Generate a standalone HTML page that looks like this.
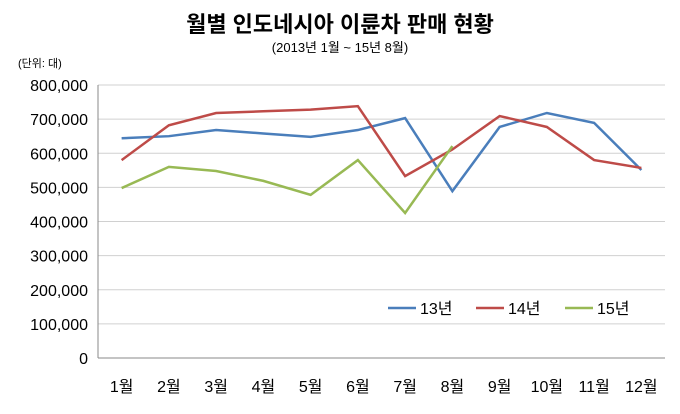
<!DOCTYPE html>
<html><head><meta charset="utf-8"><style>
body{margin:0;background:#fff;font-family:"Liberation Sans","Noto Sans CJK KR",sans-serif}
</style></head><body>
<svg width="680" height="409" xmlns="http://www.w3.org/2000/svg" font-family="Liberation Sans, Noto Sans CJK KR, sans-serif">
<rect width="680" height="409" fill="#fff"/>
<text x="340" y="32" text-anchor="middle" font-size="22" font-weight="bold" fill="#000">월별 인도네시아 이륜차 판매 현황</text>
<text x="340" y="52" text-anchor="middle" font-size="13" fill="#000">(2013년 1월 ~ 15년 8월)</text>
<text x="18" y="67" font-size="11" fill="#000">(단위: 대)</text>
<g id="grid"></g><g id="series"></g><g id="labels"></g>
<g>
<line x1="388" y1="308" x2="416" y2="308" stroke="#4a7ebb" stroke-width="2.5"/><text x="420" y="314" font-size="16">13년</text>
<line x1="476" y1="308" x2="504" y2="308" stroke="#be4b48" stroke-width="2.5"/><text x="508" y="314" font-size="16">14년</text>
<line x1="565" y1="308" x2="593" y2="308" stroke="#98b954" stroke-width="2.5"/><text x="597" y="314" font-size="16">15년</text>
</g>
</svg>
<script>
const categories=["1월","2월","3월","4월","5월","6월","7월","8월","9월","10월","11월","12월"];
const s13=[644000,650000,668000,658000,648000,668000,703000,489000,677000,718000,689000,551000];
const s14=[580000,682000,718000,723000,728000,738000,533000,611000,709000,677000,580000,557000];
const s15=[498000,560000,548000,519000,478000,580000,425000,621000];
const ticks=[0,100000,200000,300000,400000,500000,600000,700000,800000];
const NS="http://www.w3.org/2000/svg";
const x0=98,x1=665,yb=358,yt=85,ymax=800000;
const y=v=>yb-(v/ymax)*(yb-yt);
const x=i=>x0+(x1-x0)/categories.length*(i+0.5);
const g=document.getElementById('grid'),sg=document.getElementById('series'),lg=document.getElementById('labels');
function el(t,a,p){const e=document.createElementNS(NS,t);for(const k in a)e.setAttribute(k,a[k]);p.appendChild(e);return e;}
ticks.forEach(t=>{
 const l=el('line',{x1:x0,x2:x1,y1:y(t),y2:y(t),stroke:t===0?'#888':'#d0d0d0','stroke-width':1},g);
 
 
 const tx=el('text',{x:88,y:y(t)+6,'text-anchor':'end','font-size':16},lg);
 tx.textContent=t.toLocaleString('en-US');
 
 
});
const ax=el('line',{x1:x0,x2:x0,y1:yt,y2:yb,stroke:'#888'},g);


categories.forEach((c,i)=>{
 const tx=el('text',{x:x(i),y:392,'text-anchor':'middle','font-size':16},lg);
 tx.textContent=c;
 
 
});
[[s13,'#4a7ebb','series-13'],[s14,'#be4b48','series-14'],[s15,'#98b954','series-15']].forEach(([d,c,n])=>{
 const p=el('polyline',{points:d.map((v,i)=>x(i)+','+y(v)).join(' '),fill:'none',stroke:c,'stroke-width':2.5},sg);
 
 
});
</script>
</body></html>
